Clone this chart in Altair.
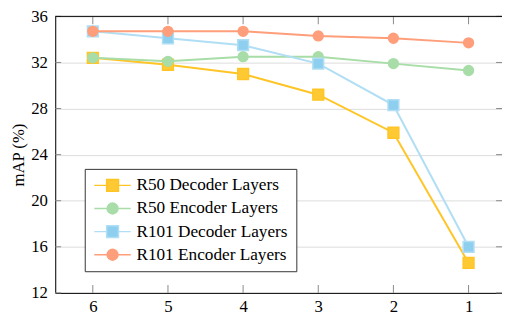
import altair as alt
import pandas as pd

layers_x = [6, 5, 4, 3, 2, 1]
series = ["R50 Decoder Layers", "R50 Encoder Layers", "R101 Decoder Layers", "R101 Encoder Layers"]
r50_dec = [32.4, 31.8, 31.0, 29.2, 25.9, 14.6]
r50_enc = [32.4, 32.1, 32.5, 32.5, 31.9, 31.3]
r101_dec = [34.7, 34.1, 33.5, 31.9, 28.3, 16.0]
r101_enc = [34.7, 34.7, 34.7, 34.3, 34.1, 33.7]
values = [r50_dec, r50_enc, r101_dec, r101_enc]

y_ticks = [12, 16, 20, 24, 28, 32, 36]
x_ticks = [1, 2, 3, 4, 5, 6]

fill_colors = ["#FFC933", "#A8DCA8", "#8ECFF0", "#FF9E7A"]
line_colors = ["#FFC526", "#A8DDA8", "#B0DEF4", "#FF9E7A"]
shapes = ["square", "circle", "square", "circle"]

XMIN, XMAX = 0.555, 6.5
YMIN, YMAX = 12, 36
W, H = 454, 281

rows = []
for s, vals in zip(series, values):
    for x, v in zip(layers_x, vals):
        rows.append({"layer": x, "series": s, "mAP": v})
df = pd.DataFrame(rows)

FONT = "'Liberation Serif', 'Times New Roman', Times, 'DejaVu Serif', serif"

xscale = alt.Scale(domain=[XMIN, XMAX], reverse=True, nice=False, zero=False)
yscale = alt.Scale(domain=[YMIN, YMAX], nice=False, zero=False)
color_scale = alt.Scale(domain=series, range=fill_colors)
stroke_scale = alt.Scale(domain=series, range=line_colors)

# legend symbol paths (line stubs + marker), units of r = sqrt(size)/2
sq_path = "M-1.17,0H0.92M2.92,0H5M0.92,-1H2.92V1H0.92Z"
ci_path = "M-1.17,0H1.0M2.84,0H5M1.0,0A0.92,0.92 0 1,0 2.84,0A0.92,0.92 0 1,0 1.0,0Z"
legend_shapes = [sq_path, ci_path, sq_path, ci_path]

xenc = alt.X("layer:Q", scale=xscale,
             axis=alt.Axis(values=x_ticks, title=None, grid=False, format="d", labelPadding=6))
yenc = alt.Y("mAP:Q", scale=yscale,
             axis=alt.Axis(values=y_ticks, title="mAP (%)", grid=True, labelPadding=8,
                           titlePadding=3))

base = alt.Chart(df)

chart_layers = []

# axes + grid layer (invisible points)
chart_layers.append(base.mark_point(opacity=0).encode(x=xenc, y=yenc))

# tick marks (inward, pgfplots style)
tick_len_y = 8 / H * (YMAX - YMIN)
tick_len_x = 6 / W * (XMAX - XMIN)
bt = pd.DataFrame({"x": x_ticks, "y": [YMIN] * 6, "y2": [YMIN + tick_len_y] * 6})
tt = pd.DataFrame({"x": x_ticks, "y": [YMAX] * 6, "y2": [YMAX - tick_len_y] * 6})
lt = pd.DataFrame({"x": [XMAX] * 7, "x2": [XMAX - 6 / W * (XMAX - XMIN)] * 7, "y": y_ticks})
rt = pd.DataFrame({"x": [XMIN] * 7, "x2": [XMIN + tick_len_x] * 7, "y": y_ticks})
tick_color = "#888888"
for d in (bt, tt):
    chart_layers.append(alt.Chart(d).mark_rule(color=tick_color, strokeWidth=1).encode(
        x=alt.X("x:Q", scale=xscale), y=alt.Y("y:Q", scale=yscale), y2="y2:Q"))
for d in (lt, rt):
    chart_layers.append(alt.Chart(d).mark_rule(color=tick_color, strokeWidth=1).encode(
        x=alt.X("x:Q", scale=xscale), x2="x2:Q", y=alt.Y("y:Q", scale=yscale)))

# top border
top = pd.DataFrame({"x": [XMIN], "x2": [XMAX], "y": [YMAX]})
chart_layers.append(alt.Chart(top).mark_rule(color="#000000", strokeWidth=1).encode(
    x=alt.X("x:Q", scale=xscale), x2="x2:Q", y=alt.Y("y:Q", scale=yscale)))

# series: line then markers, in order
for s, shp, fc, lc in zip(series, shapes, fill_colors, line_colors):
    sub = base.transform_filter(alt.datum.series == s)
    chart_layers.append(sub.mark_line(strokeWidth=2, color=lc).encode(
        x=alt.X("layer:Q", scale=xscale), y=alt.Y("mAP:Q", scale=yscale)))
    size = 121 if shp == "square" else 100
    chart_layers.append(sub.mark_point(shape=shp, filled=True, size=size, opacity=1,
                                       fill=fc, stroke=lc, strokeWidth=1.5).encode(
        x=alt.X("layer:Q", scale=xscale), y=alt.Y("mAP:Q", scale=yscale)))

# legend-driving layer (no data drawn)
leg = alt.Legend(title=None, orient="none", legendX=30, legendY=155,
                 strokeColor="#333333", fillColor="#ffffff", padding=8,
                 rowPadding=4.5, labelFont=FONT, labelFontSize=17.5, labelColor="#000000",
                 labelOffset=27, symbolSize=144, symbolStrokeWidth=1.5,
                 labelLimit=0, cornerRadius=0)
chart_layers.append(base.transform_filter("false").mark_point(filled=True, opacity=1).encode(
    x=alt.X("layer:Q", scale=xscale), y=alt.Y("mAP:Q", scale=yscale),
    color=alt.Color("series:N", scale=color_scale, legend=leg),
    stroke=alt.Stroke("series:N", scale=stroke_scale, legend=leg),
    shape=alt.Shape("series:N", scale=alt.Scale(domain=series, range=legend_shapes), legend=leg)))

chart = alt.layer(*chart_layers).properties(
    width=W, height=H,
    autosize=alt.AutoSizeParams(type="none"),
    padding={"left": 48, "top": 6, "right": 0, "bottom": 22},
).configure_view(stroke=None).configure(background="#ffffff", font=FONT).configure_axis(
    labelFont=FONT, labelFontSize=17, labelColor="#000000",
    titleFont=FONT, titleFontSize=17, titleFontWeight="normal", titleColor="#000000",
    domainColor="#000000", tickSize=0, gridColor="#dcdcdc",
).configure_legend(labelFont=FONT, labelFontSize=17.5)

chart.save("out.html", embed_options={"renderer": "svg", "actions": False})
